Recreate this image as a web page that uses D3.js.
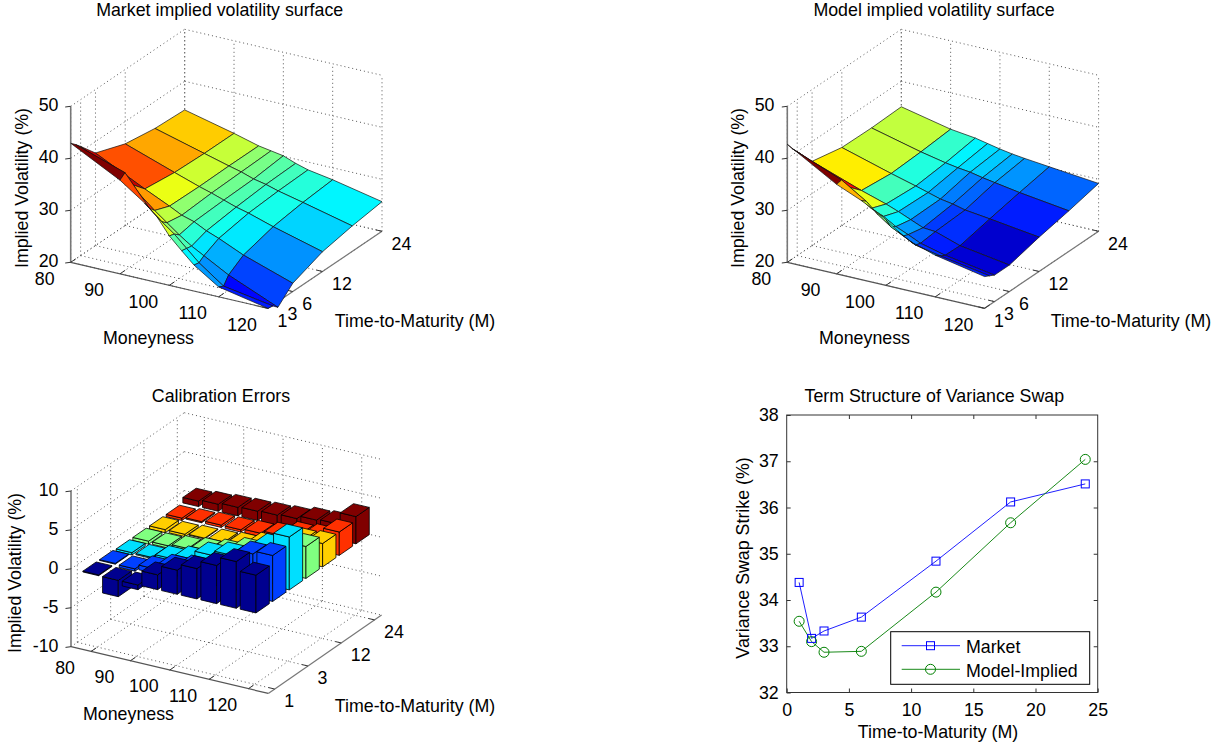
<!DOCTYPE html>
<html>
<head>
<meta charset="utf-8">
<title>Implied volatility calibration</title>
<script src="https://d3js.org/d3.v7.min.js"></script>
<style>
  body { margin: 0; background: #fff; }
  text { font-family: "Liberation Sans", Arial, sans-serif; fill: #000; }
</style>
</head>
<body>
<div id="chart"></div>
<script>
// surface grids
var moneyness = [80, 90, 95, 97.5, 100, 102.5, 105, 110, 120];
var maturities = [1, 2, 3, 6, 12, 18, 24];

// rows follow maturities, columns follow moneyness
var marketVol = [
  [42.9, 38.0, 34.7, 32.6, 29.5, 27.2, 25.0, 21.9, 20.0],
  [42.0, 38.8, 33.0, 31.0, 29.2, 27.0, 24.8, 21.4, 19.8],
  [41.0, 36.0, 32.0, 30.2, 28.4, 26.8, 25.5, 22.9, 18.9],
  [37.8, 33.1, 30.9, 29.7, 29.0, 27.8, 26.9, 24.8, 21.6],
  [35.7, 32.4, 30.8, 30.1, 29.3, 28.5, 27.9, 26.4, 23.8],
  [34.8, 32.2, 30.9, 30.3, 29.5, 29.0, 28.3, 27.2, 24.9],
  [34.5, 32.2, 30.9, 30.5, 30.1, 29.2, 28.5, 27.7, 25.7]
];
var modelVol = [
  [42.7, 37.2, 35.2, 34.0, 32.6, 30.9, 29.5, 28.0, 26.1],
  [41.2, 37.4, 34.4, 32.3, 30.6, 29.4, 28.2, 27.2, 25.6],
  [40.0, 35.5, 32.4, 31.4, 30.0, 29.0, 27.9, 26.7, 25.1],
  [36.2, 32.8, 31.3, 30.4, 29.4, 28.4, 28.2, 26.6, 25.1],
  [35.0, 32.2, 30.9, 30.2, 29.5, 29.1, 28.5, 27.9, 26.6],
  [34.9, 32.5, 31.5, 31.1, 30.8, 30.3, 29.9, 29.1, 27.8],
  [35.1, 33.0, 32.4, 31.9, 31.4, 31.0, 30.7, 30.2, 29.2]
];

// calibration error bars, one list per maturity row
var errRow1 = [0.1, -2.1, -0.6, 1.9, 3.1, 3.9, 4.9, 6.0, 4.85];
var errRow2 = [0.1, -0.3, 0.6, 1.4, 1.9, 2.4, 3.0, 5.5, 5.9];
var errRow3 = [-0.3, -0.15, 0.45, 1.0, 2.1, 2.7, 3.0, 5.0, 6.8];
var errRow4 = [-0.4, -0.3, 0.25, 0.6, 1.0, 1.8, 2.5, 3.0, 4.1];
var errRow5 = [-0.4, -0.3, 0.1, 0.2, 0.4, 1.0, 1.5, 2.8, 3.0];
var errRow6 = [-0.3, 0.15, 0.3, 0.3, 0.45, 0.8, 1.5, 1.8, 3.0];
var errRow7 = [0.7, 0.9, 1.1, 1.2, 1.3, 1.45, 1.85, 2.0, 3.5];
var errRows = [errRow1, errRow2, errRow3, errRow4, errRow5, errRow6, errRow7];
var errColors = ["#00008f", "#0040ff", "#00dfff", "#80ff80", "#ffcf00", "#ff3000", "#800000"];

// variance swap term structure
var swapMaturity = [1, 2, 3, 6, 12, 18, 24];
var swapMarket = [34.38, 33.17, 33.33, 33.63, 34.84, 36.12, 36.51];
var swapModel = [33.54, 33.10, 32.87, 32.89, 34.17, 35.67, 37.04];

// tick labels
var volTicks = [20, 30, 40, 50];
var moneyTicks = [80, 90, 100, 110, 120];
var matTicks = [1, 3, 6, 12, 24];
var errTicks = [-10, -5, 0, 5, 10];
var barMoneyIdx = [1, 3, 5, 7, 9];
var barMatIdx = [1, 3, 5, 7];
var barMatLabels = [1, 3, 12, 24];

var width = 1218,
    height = 747,
    fontSize = "17.8px";

var svg = d3.select("#chart").append("svg")
    .attr("width", width)
    .attr("height", height);

var jet = d3.scaleLinear()
    .domain([0, 0.125, 0.375, 0.625, 0.875, 1])
    .range(["#000080", "#0000ff", "#00ffff", "#ffff00", "#ff0000", "#800000"])
    .clamp(true);

var line = d3.line();

function poly(pts) {
  return line(pts) + "Z";
}

// oblique box: mDomain and tDomain run along the floor, zDomain goes up
function makeProjection(o) {
  var ms = d3.scaleLinear().domain(o.mDomain).range([0, 1]);
  var ts = d3.scaleLinear().domain(o.tDomain).range([0, 1]);
  var zs = d3.scaleLinear().domain(o.zDomain).range([0, 1]);
  return function(m, t, z) {
    return [
      o.x0 + ms(m) * o.mdx + ts(t) * o.tdx,
      o.y0 + ms(m) * o.mdy + ts(t) * o.tdy - zs(z) * o.zh
    ];
  };
}

function drawBox(g, o, proj) {
  var m0 = o.mDomain[0], m1 = o.mDomain[1];
  var t0 = o.tDomain[0], t1 = o.tDomain[1];
  var z0 = o.zDomain[0], z1 = o.zDomain[1];
  var segs = [];

  o.mTicks.forEach(function(m) {
    segs.push([proj(m, t0, z0), proj(m, t1, z0)]);
    segs.push([proj(m, t1, z0), proj(m, t1, z1)]);
  });
  o.tTicks.forEach(function(t) {
    segs.push([proj(m0, t, z0), proj(m1, t, z0)]);
    segs.push([proj(m0, t, z0), proj(m0, t, z1)]);
  });
  o.zTicks.forEach(function(z) {
    segs.push([proj(m0, t0, z), proj(m0, t1, z)]);
    segs.push([proj(m0, t1, z), proj(m1, t1, z)]);
  });

  g.selectAll("path.grid").data(segs).enter().append("path")
    .attr("class", "grid")
    .attr("d", line)
    .attr("fill", "none")
    .attr("stroke", "#555")
    .attr("stroke-width", 1)
    .attr("stroke-dasharray", "1,3");

  // axes
  g.append("path").attr("d", line([proj(m0, t0, z0), proj(m0, t0, z1)]))
    .attr("stroke", "#777").attr("stroke-width", 1.6);
  g.append("path").attr("d", line([proj(m0, t0, z0), proj(m1, t0, z0)]))
    .attr("stroke", "#555").attr("stroke-width", 1.2);
  g.append("path").attr("d", line([proj(m1, t0, z0), proj(m1, t1, z0)]))
    .attr("stroke", "#777").attr("stroke-width", 1.2);

  var dt = [o.tdx * 0.045, o.tdy * 0.045];
  var dm = [-o.mdx * 0.03, -o.mdy * 0.03];

  o.zTicks.forEach(function(z, i) {
    var p = proj(m0, t0, z);
    g.append("path").attr("d", line([p, [p[0] - 5.5, p[1] + 0.7]]))
      .attr("stroke", "#333");
    g.append("text")
      .attr("x", o.zLabelX)
      .attr("y", p[1] - 1.2)
      .attr("dy", "0.35em")
      .attr("text-anchor", "end")
      .style("font-size", fontSize)
      .text(o.zLabels[i]);
  });

  o.mTicks.forEach(function(m, i) {
    var p = proj(m, t0, z0);
    g.append("path").attr("d", line([p, [p[0] + dt[0], p[1] + dt[1]]]))
      .attr("stroke", "#333");
    g.append("text")
      .attr("x", p[0] - 26)
      .attr("y", p[1] + 16)
      .attr("dy", "0.35em")
      .attr("text-anchor", "middle")
      .style("font-size", fontSize)
      .text(o.mLabels[i]);
  });

  o.tTicks.forEach(function(t, i) {
    var p = proj(m1, t, z0);
    g.append("path").attr("d", line([p, [p[0] + dm[0], p[1] + dm[1]]]))
      .attr("stroke", "#333");
    g.append("text")
      .attr("x", p[0] + 9.5)
      .attr("y", p[1] + 12)
      .attr("dy", "0.35em")
      .style("font-size", fontSize)
      .text(o.tLabels[i]);
  });
}

function drawLabels(g, o) {
  g.append("text")
    .attr("x", o.title[0]).attr("y", o.title[1])
    .attr("dy", "0.35em")
    .attr("text-anchor", "middle")
    .style("font-size", fontSize)
    .text(o.titleText);
  g.append("text")
    .attr("x", o.mLabel[0]).attr("y", o.mLabel[1])
    .attr("dy", "0.35em")
    .attr("text-anchor", "middle")
    .style("font-size", fontSize)
    .text("Moneyness");
  g.append("text")
    .attr("x", o.tLabel[0]).attr("y", o.tLabel[1])
    .attr("dy", "0.35em")
    .attr("text-anchor", "middle")
    .style("font-size", fontSize)
    .text("Time-to-Maturity (M)");
  g.append("text")
    .attr("transform", "translate(" + o.zLabel[0] + "," + o.zLabel[1] + ") rotate(-90)")
    .attr("dy", "0.35em")
    .attr("text-anchor", "middle")
    .style("font-size", fontSize)
    .text("Implied Volatility (%)");
}

function drawSurface(o, values) {
  var g = svg.append("g");
  var proj = makeProjection(o);
  drawBox(g, o, proj);

  var faces = [];
  // far maturity first, so nearer faces paint over it
  for (var i = maturities.length - 2; i >= 0; i--) {
    for (var j = 0; j < moneyness.length - 1; j++) {
      faces.push({
        v: values[i][j],
        pts: [
          proj(moneyness[j], maturities[i], values[i][j]),
          proj(moneyness[j + 1], maturities[i], values[i][j + 1]),
          proj(moneyness[j + 1], maturities[i + 1], values[i + 1][j + 1]),
          proj(moneyness[j], maturities[i + 1], values[i + 1][j])
        ]
      });
    }
  }

  var colorValue = d3.scaleLinear().domain(o.cLim).range([0, 1]);

  g.selectAll("path.face").data(faces).enter().append("path")
    .attr("class", "face")
    .attr("d", function(d) { return poly(d.pts); })
    .attr("fill", function(d) { return jet(colorValue(d.v)); })
    .attr("stroke", "#111")
    .attr("stroke-width", 0.7)
    .attr("stroke-linejoin", "round");

  drawLabels(g, o);
}

var marketOpts = {
  x0: 70.7, y0: 262.3, mdx: 197.3, mdy: 46, tdx: 114, tdy: -77, zh: 156,
  mDomain: [80, 120], tDomain: [1, 24], zDomain: [20, 50],
  mTicks: moneyTicks, tTicks: matTicks, zTicks: volTicks,
  mLabels: moneyTicks, tLabels: matTicks, zLabels: volTicks,
  zLabelX: 58.5,
  cLim: [18.2, 42.8],
  titleText: "Market implied volatility surface",
  title: [219.7, 10], mLabel: [148.5, 338], tLabel: [415, 321], zLabel: [22, 188]
};
drawSurface(marketOpts, marketVol);

var modelOpts = Object.assign({}, marketOpts, {
  x0: 787.3,
  zLabelX: 774.5,
  cLim: [25.3, 42.3],
  titleText: "Model implied volatility surface",
  title: [934, 10], mLabel: [864.5, 338], tLabel: [1131, 321], zLabel: [738, 188]
});
drawSurface(modelOpts, modelVol);

// calibration error bars
var errOpts = {
  x0: 71, y0: 646.7, mdx: 197.3, mdy: 46.7, tdx: 113.3, tdy: -78.3, zh: 155.7,
  mDomain: [-0.02, 10.01], tDomain: [0.62, 7.42], zDomain: [-10, 10],
  mTicks: barMoneyIdx, tTicks: barMatIdx, zTicks: errTicks,
  mLabels: moneyTicks, tLabels: barMatLabels, zLabels: errTicks,
  zLabelX: 58.5,
  titleText: "Calibration Errors",
  title: [221, 395.5], mLabel: [128.5, 714], tLabel: [415, 705.5], zLabel: [15, 573]
};

(function() {
  var g = svg.append("g");
  var proj = makeProjection(errOpts);
  drawBox(g, errOpts, proj);

  var half = 0.4;
  var boxes = [];
  for (var r = errRows.length - 1; r >= 0; r--) {
    errRows[r].forEach(function(v, c) {
      boxes.push({ it: r + 1, im: c + 1, v: v, color: errColors[r] });
    });
  }

  var bar = g.selectAll("g.bar").data(boxes).enter().append("g").attr("class", "bar");

  function addFace(fn) {
    bar.append("path")
      .attr("d", function(d) { return poly(fn(d, Math.min(0, d.v), Math.max(0, d.v))); })
      .attr("fill", function(d) { return d.color; })
      .attr("stroke", "#000")
      .attr("stroke-width", 0.8)
      .attr("stroke-linejoin", "round");
  }

  // near side along moneyness
  addFace(function(d, lo, hi) {
    return [
      proj(d.im - half, d.it - half, lo),
      proj(d.im + half, d.it - half, lo),
      proj(d.im + half, d.it - half, hi),
      proj(d.im - half, d.it - half, hi)
    ];
  });
  // near side along maturity
  addFace(function(d, lo, hi) {
    return [
      proj(d.im + half, d.it - half, lo),
      proj(d.im + half, d.it + half, lo),
      proj(d.im + half, d.it + half, hi),
      proj(d.im + half, d.it - half, hi)
    ];
  });
  // top
  addFace(function(d, lo, hi) {
    return [
      proj(d.im - half, d.it - half, hi),
      proj(d.im + half, d.it - half, hi),
      proj(d.im + half, d.it + half, hi),
      proj(d.im - half, d.it + half, hi)
    ];
  });

  drawLabels(g, errOpts);
})();

// term structure panel
(function() {
  var g = svg.append("g");
  var x = d3.scaleLinear().domain([0, 25]).range([786.7, 1097.7]);
  var y = d3.scaleLinear().domain([32, 38]).range([692.5, 415]);

  g.append("rect")
    .attr("x", x(0)).attr("y", y(38))
    .attr("width", x(25) - x(0)).attr("height", y(32) - y(38))
    .attr("fill", "none")
    .attr("stroke", "#333");

  var xTop = d3.axisTop(x).tickValues([5, 10, 15, 20]).tickSize(-4).tickFormat("");
  var yRight = d3.axisRight(y).tickValues([33, 34, 35, 36, 37]).tickSize(-4).tickFormat("");
  var xBottom = d3.axisBottom(x).tickValues([0, 5, 10, 15, 20, 25]).tickSize(-4)
      .tickPadding(11).tickFormat(d3.format("d"));
  var yLeft = d3.axisLeft(y).tickValues([32, 33, 34, 35, 36, 37, 38]).tickSize(-4)
      .tickPadding(8).tickFormat(d3.format("d"));

  g.append("g").attr("transform", "translate(0," + y(38) + ")").call(xTop);
  g.append("g").attr("transform", "translate(" + x(25) + ",0)").call(yRight);
  g.append("g").attr("transform", "translate(0," + y(32) + ")").call(xBottom);
  g.append("g").attr("transform", "translate(" + x(0) + ",0)").call(yLeft);

  g.selectAll(".domain").remove();
  g.selectAll(".tick line").attr("stroke", "#333");
  g.selectAll(".tick text")
    .style("font-size", fontSize)
    .style("font-family", '"Liberation Sans", Arial, sans-serif')
    .attr("fill", "#000");

  var path = d3.line()
    .x(function(d, i) { return x(swapMaturity[i]); })
    .y(function(d) { return y(d); });

  g.append("path").attr("d", path(swapMarket)).attr("fill", "none").attr("stroke", "#2020ff");
  g.append("path").attr("d", path(swapModel)).attr("fill", "none").attr("stroke", "#1a8a1a");

  function square(sel, cx, cy) {
    sel.append("rect")
      .attr("x", cx - 4).attr("y", cy - 4)
      .attr("width", 8).attr("height", 8)
      .attr("fill", "none").attr("stroke", "#0000ff");
  }
  function circle(sel, cx, cy) {
    sel.append("circle")
      .attr("cx", cx).attr("cy", cy).attr("r", 5)
      .attr("fill", "none").attr("stroke", "#008000");
  }

  swapMarket.forEach(function(v, i) { square(g, x(swapMaturity[i]), y(v)); });
  swapModel.forEach(function(v, i) { circle(g, x(swapMaturity[i]), y(v)); });

  // legend
  g.append("rect")
    .attr("x", 890.7).attr("y", 631.7)
    .attr("width", 199).attr("height", 52.6)
    .attr("fill", "#fff").attr("stroke", "#000");
  g.append("path").attr("d", line([[901.7, 645.7], [960, 645.7]])).attr("stroke", "#2020ff");
  square(g, 930.5, 645.7);
  g.append("path").attr("d", line([[901.7, 669.3], [960, 669.3]])).attr("stroke", "#1a8a1a");
  circle(g, 930.5, 669.3);
  g.append("text").attr("x", 966).attr("y", 647).attr("dy", "0.35em")
    .style("font-size", fontSize).text("Market");
  g.append("text").attr("x", 966).attr("y", 670.5).attr("dy", "0.35em")
    .style("font-size", fontSize).text("Model-Implied");

  g.append("text").attr("x", 934.3).attr("y", 395.5).attr("dy", "0.35em")
    .attr("text-anchor", "middle").style("font-size", fontSize)
    .text("Term Structure of Variance Swap");
  g.append("text").attr("x", 938).attr("y", 732).attr("dy", "0.35em")
    .attr("text-anchor", "middle").style("font-size", fontSize)
    .text("Time-to-Maturity (M)");
  g.append("text")
    .attr("transform", "translate(742.7,558) rotate(-90)")
    .attr("dy", "0.35em")
    .attr("text-anchor", "middle").style("font-size", fontSize)
    .text("Variance Swap Strike (%)");
})();
</script>
</body>
</html>
